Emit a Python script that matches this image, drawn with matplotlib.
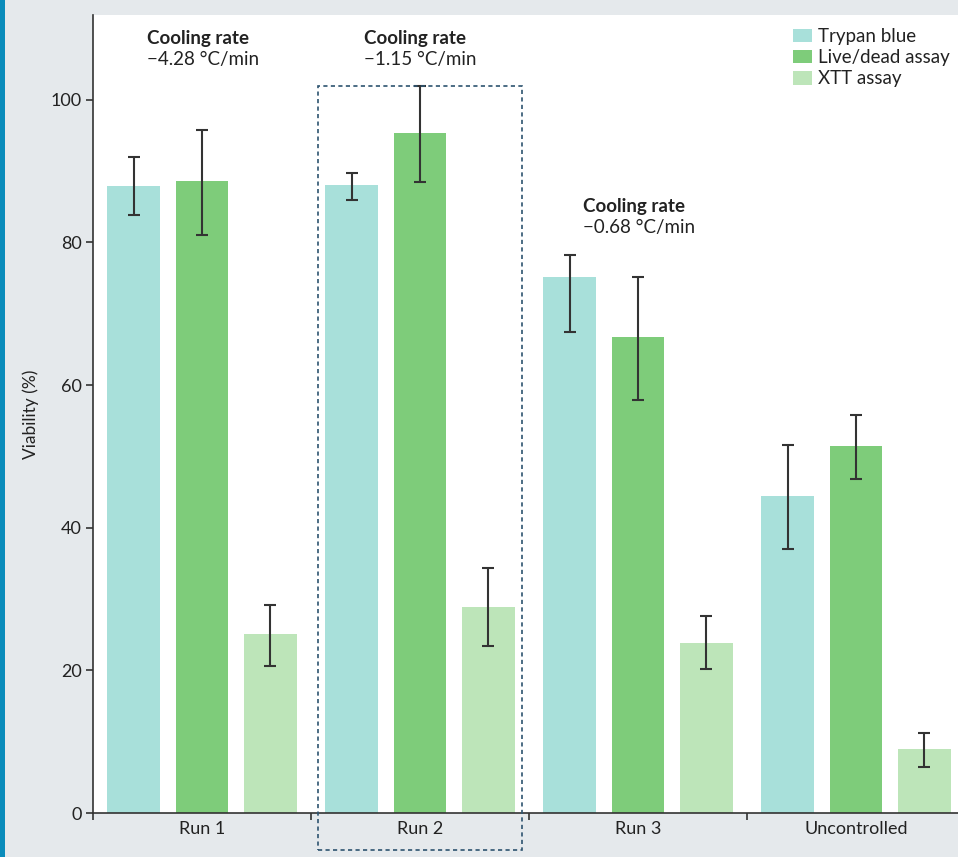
import numpy as np
import matplotlib
matplotlib.use("Agg")
import matplotlib.pyplot as plt
from matplotlib.patches import Rectangle

plt.rcParams['font.family'] = ['Lato', 'DejaVu Sans']

# data
groups = ['Run 1', 'Run 2', 'Run 3', 'Uncontrolled']
series = ['Trypan blue', 'Live/dead assay', 'XTT assay']
colors = ['#a8e0da', '#7ecc7a', '#bde5b9']

trypan = [87.9, 88.0, 75.2, 44.4]
trypan_hi = [92.0, 89.8, 78.3, 51.6]
trypan_lo = [83.8, 85.9, 67.4, 37.0]

livedead = [88.6, 95.3, 66.8, 51.4]
livedead_hi = [95.8, 102.0, 75.1, 55.8]
livedead_lo = [81.0, 88.5, 57.9, 46.9]

xtt = [25.1, 28.9, 23.9, 9.0]
xtt_hi = [29.1, 34.4, 27.6, 11.2]
xtt_lo = [20.6, 23.4, 20.2, 6.5]

cooling_labels = ['\u22124.28 \u00b0C/min', '\u22121.15 \u00b0C/min', '\u22120.68 \u00b0C/min']

ytick_vals = [0, 20, 40, 60, 80, 100]

# ---- figure ----
W, H = 958, 857
fig = plt.figure(figsize=(W / 100, H / 100), dpi=100)
fig.patch.set_facecolor('#e5e9ec')
fig.patches.append(Rectangle((0, 0), 5 / W, 1, transform=fig.transFigure,
                             facecolor='#0a8cbb', edgecolor='none'))

ax = fig.add_axes([93 / W, 1 - 813 / H, 872 / W, 798 / H])
ax.set_facecolor('white')

x = np.arange(len(groups))
offset = 0.312
width = 0.243
txt = '#222222'

all_vals = [(trypan, trypan_lo, trypan_hi), (livedead, livedead_lo, livedead_hi),
            (xtt, xtt_lo, xtt_hi)]
for i, (vals, lo, hi) in enumerate(all_vals):
    v = np.array(vals)
    err = [v - np.array(lo), np.array(hi) - v]
    pos = x + (i - 1) * offset
    ax.bar(pos, v, width, color=colors[i], label=series[i], zorder=2)
    ax.errorbar(pos, v, yerr=err, fmt='none', ecolor='#333333', elinewidth=1.5,
                capsize=4.5, capthick=1.5, zorder=3)

ax.set_xlim(-0.5, 3.5)
ax.set_ylim(0, 111.9)

ax.spines['top'].set_visible(False)
ax.spines['right'].set_visible(False)
for s in ['left', 'bottom']:
    ax.spines[s].set_color('#333333')
    ax.spines[s].set_linewidth(1.2)

ax.set_yticks(ytick_vals)
ax.tick_params(axis='y', length=5, width=1.2, color='#333333', labelsize=13,
               labelcolor=txt, pad=3)
ax.set_xticks(x)
ax.set_xticklabels(groups)
ax.set_xticks([-0.5, 0.5, 1.5, 2.5], minor=True)
ax.tick_params(axis='x', which='major', length=0, labelsize=13, labelcolor=txt, pad=6)
ax.tick_params(axis='x', which='minor', length=5, width=1.2, color='#333333')

ax.set_ylabel('Viability (%)', fontsize=12.5, color=txt)
ax.yaxis.set_label_coords(-0.062, 0.5)

# cooling rate annotations
ann_x = [-0.252, 0.743, 1.748]
ann_y = [108.6, 108.6, 85.1]
for ax_, ay_, lab in zip(ann_x, ann_y, cooling_labels):
    ax.text(ax_, ay_, 'Cooling rate', fontsize=13.5, fontweight='bold', color=txt,
            ha='left', va='center')
    ax.text(ax_, ay_ - 2.95, lab, fontsize=13.5, color=txt, ha='left', va='center')

# dashed box around Run 2
box = Rectangle((0.532, -5.2), 0.936, 107.2, fill=False, edgecolor='#2e5470',
                linestyle=(0, (2.5, 2)), linewidth=1.2, clip_on=False, zorder=4)
ax.add_patch(box)

leg = ax.legend(loc='upper left', bbox_to_anchor=(793 / W, 1 - 28 / H),
                bbox_transform=fig.transFigure, frameon=False, fontsize=13.5,
                handlelength=1.0, handleheight=0.75, handletextpad=0.35,
                labelspacing=0.22, borderaxespad=0, borderpad=0)
for t in leg.get_texts():
    t.set_color(txt)

fig.savefig('out.png', dpi=100, facecolor=fig.get_facecolor())
